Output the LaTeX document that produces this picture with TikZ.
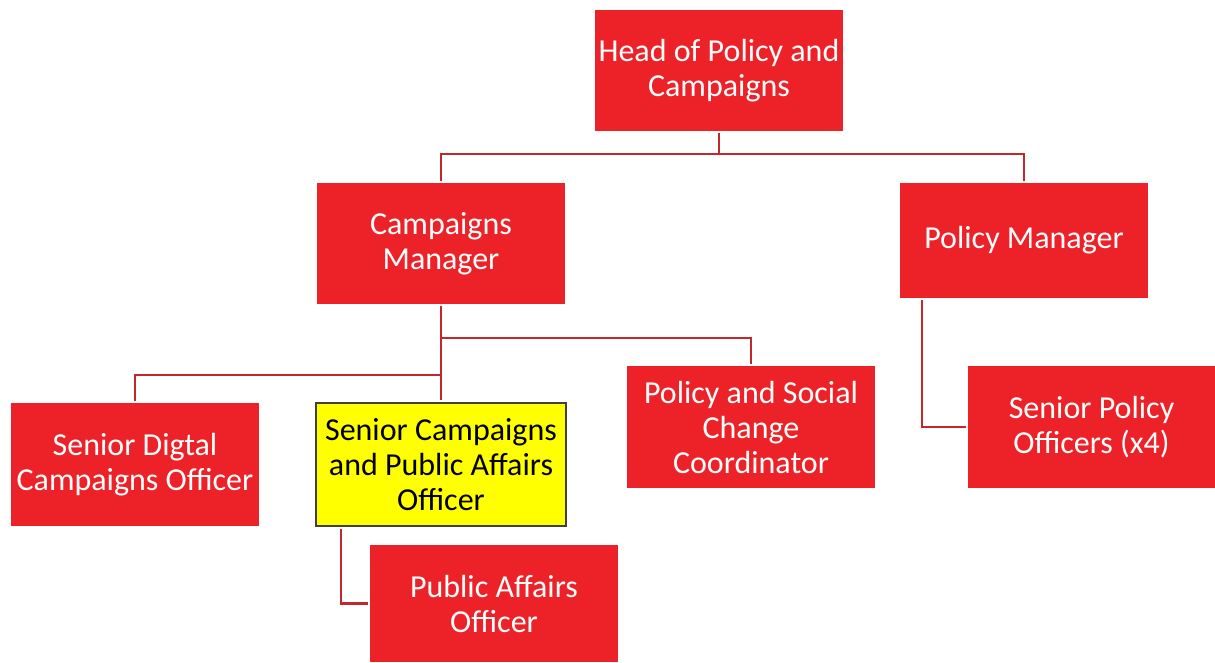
\documentclass[tikz,border=0pt]{standalone}
\usepackage{fontspec}
\setmainfont{Carlito}
\usepackage{tikz}

\definecolor{boxred}{HTML}{ED2228}
\definecolor{linkred}{HTML}{C1272D}
\definecolor{hiyellow}{HTML}{FFFF00}
\definecolor{hiframe}{HTML}{404040}

\begin{document}
\begin{tikzpicture}[x=1pt,y=-1pt,
	post/.style={shape=rectangle,fill=boxred,text=white,align=center,
		inner sep=0pt,minimum width=248pt,minimum height=121pt,
		font=\fontsize{32}{35}\selectfont},
	mine/.style={post,fill=hiyellow,text=black,draw=hiframe,line width=2pt,minimum width=250pt,minimum height=123pt},
	link/.style={draw=linkred,line width=2.2pt,shorten <=2pt,shorten >=2pt}]
	\useasboundingbox (0,0) rectangle (1215,662);

	\node[post] (head) at (719, 70.5)  {Head of Policy and\\Campaigns};
	\node[post] (cm)   at (441, 243.5) {Campaigns\\Manager};
	\node[post,minimum height=115pt] (pm) at (1024, 240.5) {Policy Manager};
	\node[post,minimum height=123pt] (sdco) at (135, 464.5) {Senior Digtal\\Campaigns Officer};
	\node[mine] (scpao) at (441, 464.5) {Senior Campaigns\\and Public Affairs\\Officer};
	\node[post,minimum height=122pt] (psc) at (751, 427) {Policy and Social\\Change\\Coordinator};
	\node[post,minimum height=122pt,minimum width=247pt] (spo) at (1091.5, 427) {Senior Policy\\Officers (x4)};
	\node[post,minimum height=117pt] (pao) at (494, 603.5) {Public Affairs\\Officer};

	% top level
	\path[link] (head.south) -- (head.south |- 0,154) -| (cm.north);
	\path[link] (head.south) -- (head.south |- 0,154) -| (pm.north);

	% under the campaigns manager
	\path[link] (cm.south) -- (scpao.north);
	\path[link] (cm.south) -- (cm.south |- 0,338) -| (psc.north);
	\path[link,shorten <=0pt] (cm.south |- 0,375) -| (sdco.north);

	% single reports
	\path[link] (pm.south -| 922,0) |- (spo.west);
	\path[link] (scpao.south -| 341,0) |- (pao.west);
\end{tikzpicture}
\end{document}
